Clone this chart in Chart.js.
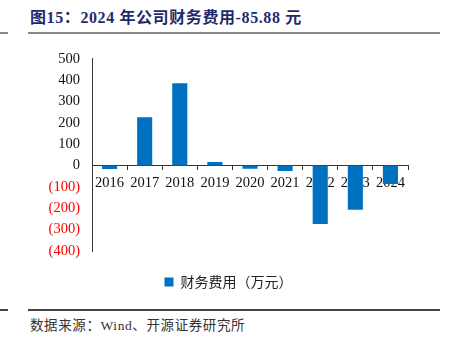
<!DOCTYPE html>
<html lang="zh">
<head>
<meta charset="UTF-8">
<title>图15：2024 年公司财务费用</title>
<script src="https://cdn.jsdelivr.net/npm/chart.js"></script>
<style>
    body { margin: 0; width: 457px; height: 346px; background: #fff; position: relative; overflow: hidden; }
    .title { position: absolute; left: 30px; top: 4px; font: bold 16px "Liberation Serif", "Noto Sans CJK SC", serif; letter-spacing: 0.6px; color: #1f2a6e; white-space: nowrap; }
    .rule { position: absolute; height: 1.5px; }
    .src { position: absolute; left: 30px; top: 314px; font: 13.5px "Liberation Serif", "Noto Sans CJK SC", serif; letter-spacing: 0.6px; color: #333; white-space: nowrap; }
    .box { position: absolute; left: 0; top: 46px; width: 457px; height: 253px; }
</style>
</head>
<body>
<div class="title">图15：2024 年公司财务费用-85.88 元</div>
<div class="rule" style="left:0;width:8px;top:32px;background:#888"></div>
<div class="rule" style="left:28px;width:412px;top:32px;background:#888"></div>
<div class="box"><canvas id="chart"></canvas></div>
<div class="rule" style="left:0;width:8px;top:309px;background:#444"></div>
<div class="rule" style="left:28px;width:412px;top:309px;background:#444"></div>
<div class="src">数据来源：Wind、开源证券研究所</div>

<script>
    const years = ['2016', '2017', '2018', '2019', '2020', '2021', '2022', '2023', '2024'];
    const financeCost = [-16, 226, 385, 17, -15, -25, -274, -207, -85.88];
    const seriesName = '财务费用（万元）';

    const serif = "'Liberation Serif', 'Times New Roman', serif";

    new Chart(document.getElementById('chart'), {
        type: 'bar',
        data: {
            labels: years,
            datasets: [{
                label: seriesName,
                data: financeCost,
                backgroundColor: '#0070c0',
                categoryPercentage: 0.43,
                barPercentage: 1.0
            }]
        },
        options: {
            responsive: true,
            maintainAspectRatio: false,
            animation: false,
            layout: { padding: { left: 0, right: 0, top: 0, bottom: 0 } },
            plugins: {
                tooltip: { enabled: false },
                legend: {
                    position: 'bottom',
                    labels: {
                        boxWidth: 9, boxHeight: 9, padding: 24,
                        color: '#222',
                        font: { family: "'Noto Sans CJK SC', sans-serif", size: 14 }
                    }
                }
            },
            scales: {
                x: {
                    position: { y: 0 },
                    offset: true,
                    grid: { display: true, drawOnChartArea: false, offset: true, tickLength: 4, color: '#333' },
                    border: { display: true, color: '#333', width: 1 },
                    ticks: { color: '#111', padding: 5, font: { family: serif, size: 14.5 } }
                },
                y: {
                    min: -400, max: 500,
                    afterFit: s => { s.width = 92; },
                    grid: { display: false },
                    border: { display: true, color: '#333', width: 1 },
                    ticks: {
                        stepSize: 100,
                        padding: 4,
                        font: { family: serif, size: 14.5 },
                        color: c => c.tick && c.tick.value < 0 ? '#ff0000' : '#111',
                        callback: v => v < 0 ? '(' + (-v) + ')' : String(v)
                    }
                },
                // empty right margin so the legend stays centred on the page
                yRight: {
                    position: 'right',
                    min: -400, max: 500,
                    afterFit: s => { s.width = 49; },
                    grid: { display: false },
                    border: { display: false },
                    ticks: { display: false }
                }
            }
        }
    });
</script>
</body>
</html>
